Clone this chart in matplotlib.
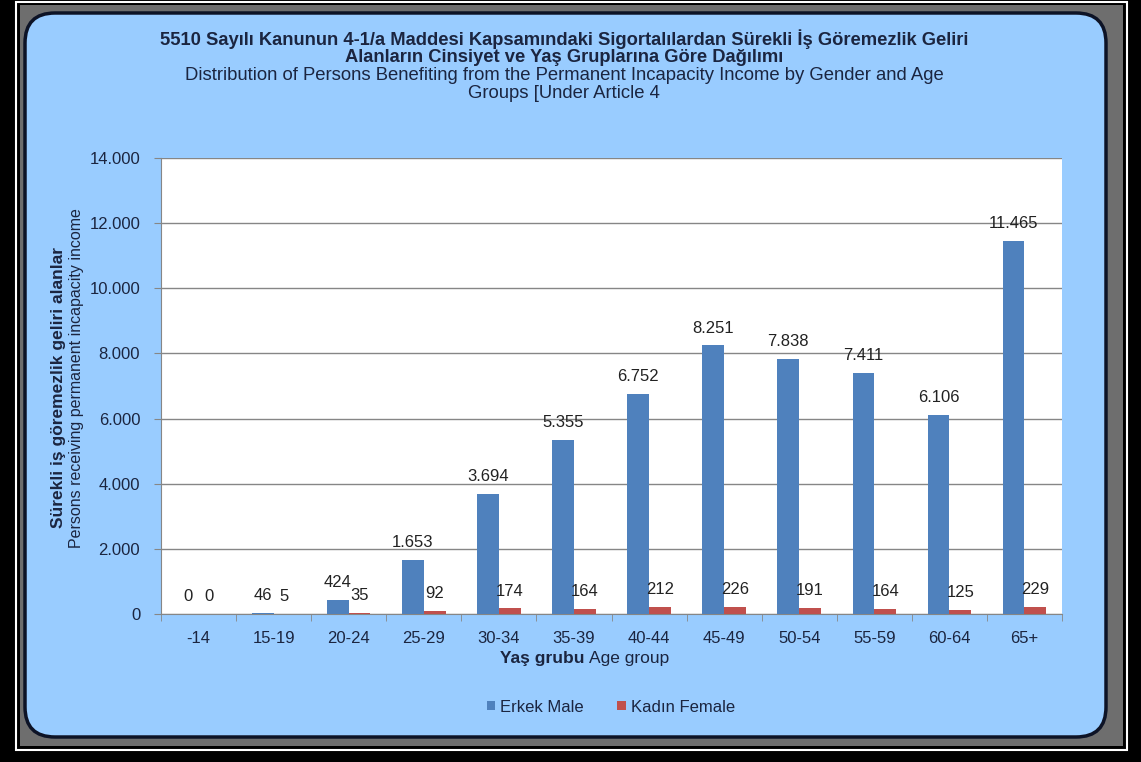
import numpy as np
import matplotlib
matplotlib.use("Agg")
import matplotlib.pyplot as plt
from matplotlib.patches import FancyBboxPatch, Rectangle
from matplotlib.transforms import IdentityTransform

plt.rcParams['font.family'] = ['Liberation Sans', 'DejaVu Sans']

age_groups = ['-14', '15-19', '20-24', '25-29', '30-34', '35-39', '40-44',
              '45-49', '50-54', '55-59', '60-64', '65+']
male = [0, 46, 424, 1653, 3694, 5355, 6752, 8251, 7838, 7411, 6106, 11465]
female = [0, 5, 35, 92, 174, 164, 212, 226, 191, 164, 125, 229]

W, H = 1141, 762
fig = plt.figure(figsize=(W / 100, H / 100), dpi=100, facecolor='black')
ident = IdentityTransform()

# frame: white rule, grey bevel, rounded blue panel (kept behind the axes)
fig.add_artist(Rectangle((16, 12), 1111, 748, transform=ident, fill=False,
                         edgecolor='white', linewidth=1.5, zorder=-12))
fig.add_artist(Rectangle((20, 16), 1103, 741, transform=ident,
                         facecolor='#6e6e6e', edgecolor='none', zorder=-11))
fig.add_artist(FancyBboxPatch((25, 25), 1081, 724, transform=ident,
                              boxstyle='round,pad=0,rounding_size=30',
                              facecolor='#99ccff', edgecolor='#0d1326',
                              linewidth=2.5, zorder=-10))

txt = '#1b2540'
tx = 564 / W
fig.text(tx, 1 - 39 / H,
         '5510 Sayılı Kanunun 4-1/a Maddesi Kapsamındaki Sigortalılardan Sürekli İş Göremezlik Geliri',
         ha='center', va='center', fontsize=13.2, fontweight='bold', color=txt)
fig.text(tx, 1 - 58 / H,
         'Alanların Cinsiyet ve Yaş Gruplarına Göre Dağılımı',
         ha='center', va='center', fontsize=13.2, fontweight='bold', color=txt)
fig.text(tx, 1 - 76 / H,
         'Distribution of Persons Benefiting from the Permanent Incapacity Income by Gender and Age',
         ha='center', va='center', fontsize=13.3, color=txt)
fig.text(tx, 1 - 94 / H, 'Groups [Under Article 4',
         ha='center', va='center', fontsize=13.3, color=txt)

ax = fig.add_axes([161 / W, 1 - 614 / H, 901 / W, 456 / H])
ax.set_facecolor('white')

x = np.arange(len(age_groups))
bw = 0.29
ax.bar(x - bw / 2, male, bw, color='#4f81bd', label='Erkek Male', zorder=3)
ax.bar(x + bw / 2, female, bw, color='#c0504d', label='Kadın Female', zorder=3)

def fmt(v):
    return f'{v:,}'.replace(',', '.')

for i in range(len(age_groups)):
    ax.annotate(fmt(male[i]), (x[i] - bw / 2, male[i]), xytext=(0, 7),
                textcoords='offset points', ha='center', va='bottom',
                fontsize=12, color='#222222', zorder=4)
    ax.annotate(fmt(female[i]), (x[i] + bw / 2, female[i]), xytext=(0, 7),
                textcoords='offset points', ha='center', va='bottom',
                fontsize=12, color='#222222', zorder=4)

ax.set_xlim(-0.5, len(age_groups) - 0.5)
ax.set_ylim(0, 14000)
ax.set_yticks(np.arange(0, 14001, 2000))
ax.set_yticklabels([fmt(v) for v in range(0, 14001, 2000)])
ax.set_xticks(x)
ax.set_xticklabels(age_groups)
ax.set_xticks(np.arange(-0.5, len(age_groups), 1), minor=True)
ax.tick_params(axis='x', which='major', length=0, pad=12, labelsize=12, labelcolor=txt)
ax.tick_params(axis='x', which='minor', length=5, color='#868686', direction='out')
ax.tick_params(axis='y', length=5, color='#868686', pad=10, labelsize=12, labelcolor=txt)
ax.yaxis.grid(True, color='#868686', linewidth=1, zorder=0)
for s in ['top', 'right']:
    ax.spines[s].set_visible(False)
for s in ['left', 'bottom']:
    ax.spines[s].set_color('#868686')

# axis titles: bold Turkish + plain English
fig.text(59 / W, 1 - 388 / H, 'Sürekli iş göremezlik geliri alanlar',
         rotation=90, ha='center', va='center', fontsize=12.5,
         fontweight='bold', color=txt)
fig.text(77 / W, 1 - 378 / H, 'Persons receiving permanent incapacity income',
         rotation=90, ha='center', va='center', fontsize=11.5, color=txt)
fig.text(585 / W, 1 - 658 / H, 'Yaş grubu', ha='right', va='center',
         fontsize=12.5, fontweight='bold', color=txt)
fig.text(589 / W, 1 - 658 / H, 'Age group', ha='left', va='center',
         fontsize=12.5, color=txt)

fig.legend(loc='center', bbox_to_anchor=(611 / W, 1 - 707 / H), ncol=2,
           frameon=False, fontsize=12, handlelength=0.5, handleheight=0.5,
           handletextpad=0.3, columnspacing=2.0, labelcolor=txt)

fig.savefig('out.png', dpi=100, facecolor='black')
